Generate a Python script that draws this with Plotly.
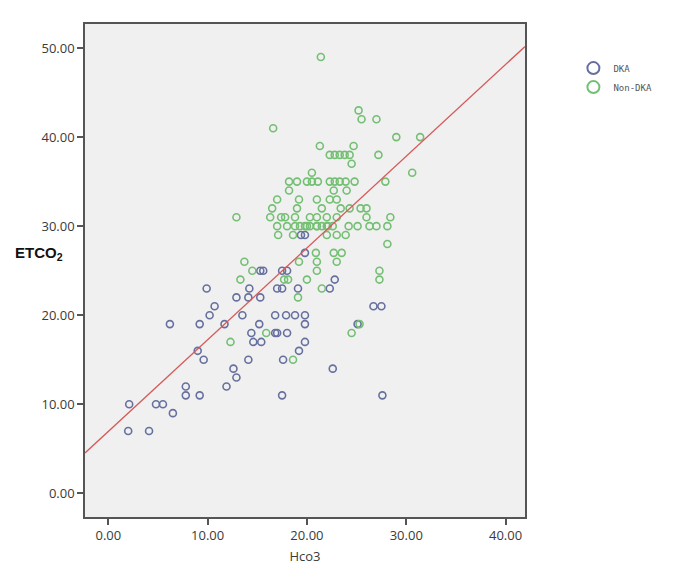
import plotly.graph_objects as go

# DKA group (blue)
dka_hco3 = [19.4, 19.8, 19.8, 15.3, 15.6, 17.5, 18.0, 22.8,
            9.9, 14.2, 17.0, 17.5, 19.1, 22.3,
            12.9, 14.1, 15.3,
            10.7, 26.7, 27.5,
            10.2, 13.5, 16.8, 17.9, 18.8, 19.8,
            6.2, 9.2, 11.7, 15.2, 19.8, 25.1,
            14.4, 16.8, 17.0, 18.0,
            14.6, 15.4, 19.8,
            9.0, 19.2,
            9.6, 14.1, 17.6,
            12.6, 22.6,
            12.9,
            7.8, 11.9,
            7.8, 9.2, 17.5, 27.6,
            2.1, 4.8, 5.5,
            6.5,
            2.0, 4.1]
dka_etco2 = [29, 29, 27, 25, 25, 25, 25, 24,
             23, 23, 23, 23, 23, 23,
             22, 22, 22,
             21, 21, 21,
             20, 20, 20, 20, 20, 20,
             19, 19, 19, 19, 19, 19,
             18, 18, 18, 18,
             17, 17, 17,
             16, 16,
             15, 15, 15,
             14, 14,
             13,
             12, 12,
             11, 11, 11, 11,
             10, 10, 10,
             9,
             7, 7]

# Non-DKA group (green)
non_hco3 = [21.4, 25.2, 25.5, 27.0, 16.6, 29.0, 31.4, 21.3, 24.7,
            22.3, 22.8, 23.3, 23.8, 24.3, 27.2,
            24.5, 20.5, 30.6,
            18.2, 19.0, 20.0, 20.5, 21.1, 22.3, 22.8, 23.3, 23.9, 24.8, 27.9,
            18.2, 22.7, 24.0,
            17.0, 19.2, 21.0, 22.3, 23.0,
            16.5, 19.0, 21.5, 23.4, 24.3, 25.4, 26.0,
            12.9, 16.3, 17.4, 17.8, 18.8, 20.3, 21.0, 22.0, 23.0, 26.0, 28.4,
            17.0, 18.0, 18.8, 19.3, 19.8, 20.3, 21.0, 21.5, 22.1, 22.6, 24.2,
            25.1, 26.3, 27.0, 28.1, 20.0, 21.0, 22.0,
            17.1, 18.6, 22.0, 23.0, 23.9,
            28.1,
            20.9, 22.7, 23.5,
            13.7, 19.2, 21.0, 23.0,
            14.5, 21.0, 27.3,
            13.3, 17.7, 18.1, 20.0, 27.3,
            21.5, 19.1,
            25.3, 15.9, 24.5, 12.3, 18.6]
non_etco2 = [49, 43, 42, 42, 41, 40, 40, 39, 39,
             38, 38, 38, 38, 38, 38,
             37, 36, 36,
             35, 35, 35, 35, 35, 35, 35, 35, 35, 35, 35,
             34, 34, 34,
             33, 33, 33, 33, 33,
             32, 32, 32, 32, 32, 32, 32,
             31, 31, 31, 31, 31, 31, 31, 31, 31, 31, 31,
             30, 30, 30, 30, 30, 30, 30, 30, 30, 30, 30,
             30, 30, 30, 30, 30, 30, 30,
             29, 29, 29, 29, 29,
             28,
             27, 27, 27,
             26, 26, 26, 26,
             25, 25, 25,
             24, 24, 24, 24, 24,
             23, 22,
             19, 18, 18, 17, 15]

# fit line at total
fit_intercept = 6.95
fit_slope = 1.03
x_range = [-2.35, 41.96]
y_range = [-2.66, 52.7]
tick_vals = [0, 10, 20, 30, 40, 50]

blue = "#66709f"
green = "#74bf74"
tick_font = dict(family="Open Sans", size=13, color="#3a3a3a")

fig = go.Figure()
fig.add_trace(go.Scatter(
    x=dka_hco3, y=dka_etco2, mode="markers", name="DKA",
    marker=dict(symbol="circle-open", size=7, color=blue, line=dict(width=1.6)),
))
fig.add_trace(go.Scatter(
    x=non_hco3, y=non_etco2, mode="markers", name="Non-DKA",
    marker=dict(symbol="circle-open", size=7, color=green, line=dict(width=1.6)),
))
fig.add_trace(go.Scatter(
    x=x_range, y=[fit_intercept + fit_slope * v for v in x_range],
    mode="lines", line=dict(color="#d65a5a", width=1.3),
    showlegend=False, hoverinfo="skip",
))

fig.update_layout(
    width=684, height=571,
    margin=dict(l=77, r=167, t=16, b=62),
    paper_bgcolor="white",
    plot_bgcolor="#f0f0f0",
    showlegend=True,
    legend=dict(
        x=1.11, y=0.94, xanchor="left", yanchor="top",
        itemsizing="constant", tracegroupgap=0,
        font=dict(family="DejaVu Sans Mono, monospace", size=9, color="#555"),
        bgcolor="rgba(0,0,0,0)",
    ),
    annotations=[dict(
        text="<b>ETCO<sub>2</sub></b>", xref="paper", yref="paper",
        x=-0.045, y=0.535, xanchor="right", yanchor="middle", showarrow=False,
        font=dict(family="Liberation Sans", size=15, color="#111"),
    )],
)
fig.update_xaxes(
    range=x_range, tickvals=tick_vals[:5], tickformat=".2f",
    showgrid=False, zeroline=False,
    showline=True, mirror=True, linecolor="#555", linewidth=1.5,
    ticks="outside", ticklen=6, tickcolor="#555", tickwidth=1.5,
    tickfont=tick_font,
    title=dict(text="Hco3", font=dict(family="Open Sans", size=13, color="#3a3a3a"), standoff=9),
)
fig.update_yaxes(
    range=y_range, tickvals=tick_vals, tickformat=".2f",
    showgrid=False, zeroline=False,
    showline=True, mirror=True, linecolor="#555", linewidth=1.5,
    ticks="outside", ticklen=6, tickcolor="#555", tickwidth=1.5,
    tickfont=tick_font,
)

fig.write_html("out.html")
